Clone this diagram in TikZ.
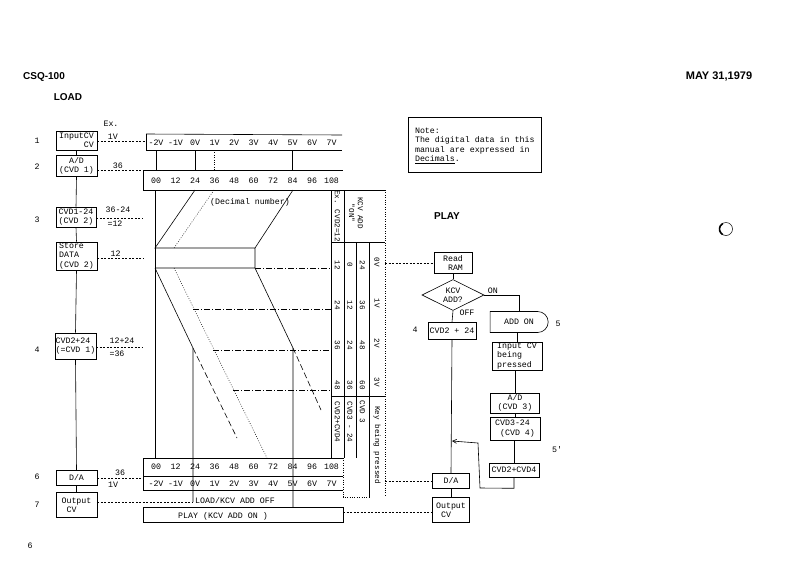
\documentclass[tikz,border=0pt]{standalone}
\usepackage{fontspec}
\setmainfont{Liberation Serif}
\newfontfamily\tw{Liberation Mono}
\newfontfamily\hd{Liberation Sans}
\usetikzlibrary{shapes.geometric,shapes.misc,arrows.meta}
\begin{document}
\begin{tikzpicture}[x=1pt,y=-1pt,
  tt/.style={font=\tw\fontsize{8.3}{9.4}\selectfont, inner sep=0pt},
  bx/.style={draw, line width=0.6pt, tt, inner sep=1pt, align=center},
  bxl/.style={bx, align=left},
  hdr/.style={font=\hd\bfseries\fontsize{10}{12}\selectfont, inner sep=0pt},
  ln/.style={line width=0.6pt},
  dsh/.style={line width=0.5pt, dash pattern=on 2pt off 1.5pt},
  dot/.style={line width=0.5pt, dash pattern=on 0.8pt off 1.6pt},
  dd/.style={line width=0.6pt, dash pattern=on 6pt off 2pt on 1pt off 2pt},
  ldsh/.style={line width=0.6pt, dash pattern=on 6pt off 3pt},
  rot/.style={font=\tw\fontsize{7.6}{8.6}\selectfont, inner sep=0pt, rotate=-90},
]
\useasboundingbox (0,0) rectangle (793,587);

% headers
\node[hdr] (csq) at (44,77) {CSQ-100};
\node[hdr] (load) at (68,97) {LOAD};
\node[hdr, font=\hd\bfseries\fontsize{11}{13}\selectfont] (may) at (719,77) {MAY 31,1979};
\node[hdr] (play) at (447,216) {PLAY};
\node[tt] (pg) at (30,546) {6};
\draw[line width=0.5pt] (726,229) circle[radius=6.5];
\draw[line width=1.6pt] (726,229) ++(120:6.5) arc[start angle=120, end angle=240, radius=6.5];

% left flow
\node[tt] (ex) at (111,124) {Ex.};
\node[bxl, minimum width=41, minimum height=15] (b1) at (76.5,141) {InputCV\\\phantom{Input}CV};
\node[bx, minimum width=41, minimum height=21] (b2) at (76.5,166) {A/D\\(CVD 1)};
\node[bxl, minimum width=40, minimum height=20] (b3) at (76,217) {CVD1-24\\(CVD 2)};
\node[bxl, minimum width=41, minimum height=28] (b4) at (76.5,256) {Store\\DATA\\(CVD 2)};
\node[bxl, minimum width=40, minimum height=26, inner sep=0.5pt] (b5) at (75.5,346) {CVD2+24\\(=CVD 1)};
\node[bx, minimum width=41, minimum height=15] (b6) at (76.5,478) {D/A};
\node[bxl, minimum width=41, minimum height=25] (b7) at (76.5,505) {Output\\\ CV};
\foreach \a/\b in {b1/b2,b2/b3,b3/b4,b4/b5,b5/b6,b6/b7} \draw[ln] (\a.south) -- (\b.north);

\node[tt] (n1) at (37,141) {1};
\node[tt] (n2) at (37,167) {2};
\node[tt] (n3) at (37,220) {3};
\node[tt] (n4) at (37,350) {4};
\node[tt] (n6) at (37,477) {6};
\node[tt] (n7) at (37,505) {7};

% top scales
\draw[ln] (146,134) -- (342,135);
\draw[ln] (146,150) -- (342,150);
\draw[ln] (146,134) -- (146,150);
\draw[ln] (143,170) -- (343,170);
\draw[ln] (143,170) -- (143,190) -- (385,190);
\foreach \v [count=\i from 0] in {-2V,-1V,0V,1V,2V,3V,4V,5V,6V,7V}
  \node[tt] (tv\i) at (156+19.5*\i,143) {\v};
\foreach \v [count=\i from 0] in {00,12,24,36,48,60,72,84,96,108}
  \node[tt] (tn\i) at (156+19.5*\i,181) {\v};

\coordinate (e1) at (146,141);
\coordinate (e2) at (143,170);
\coordinate (e3) at (143,218);
\coordinate (e4) at (143,258);
\coordinate (e5) at (143,347);
\coordinate (e6) at (143,478);
\draw[dsh] (b1.east) -- (e1) node[tt, pos=0.32, above=1pt] (l1) {1V};
\draw[dsh] (b2.east |- e2) -- (e2) node[tt, pos=0.45, above=1pt] (l2) {36};
\draw[dsh] (b3.east |- e3) -- (e3);
\node[tt] (l3a) at (118,210) {36-24};
\node[tt] (l3b) at (115,224) {=12};
\draw[dsh] (b4.east |- e4) -- (e4) node[tt, pos=0.4, above=1pt] (l4) {12};
\draw[dsh] (b5.east |- e5) -- (e5);
\node[tt] (l5a) at (122,341) {12+24};
\node[tt] (l5b) at (117,354) {=36};
\draw[dsh] (b6.east |- e6) -- (e6);
\node[tt] (l6a) at (120,473) {36};
\node[tt] (l6b) at (113,485) {1V};

% verticals between top scales
\draw[ln] (156,150) -- (156,170);
\draw[ln] (195,150) -- (195,170);
\draw[dot] (214.5,150) -- (214.5,170);
\draw[ln] (292.5,150) -- (292.5,170);

% diagonal region
\coordinate (p24) at (195,190);
\coordinate (p36) at (214,190);
\coordinate (p84) at (293,190);
\coordinate (r1) at (155,248);
\coordinate (r2) at (255,248);
\coordinate (r3) at (255,268);
\coordinate (r4) at (155,268);
\coordinate (d1) at (174,248);
\coordinate (d2) at (174,268);
\coordinate (s1) at (193,348);
\coordinate (s2) at (293,348);
\draw[ln] (155,190) -- (155,458);
\draw[ln] (p24) -- (r1) -- (r2) -- (r3) -- (r4);
\draw[ln] (p84) -- (r2);
\draw[dot] (p36) -- (d1);
\draw[dot] (d2) -- (267,458);
\node[tt] (dec) at (250,202) {(Decimal number)};
\draw[ln] (r4) -- (s1) -- (193,502);
\draw[ln] (r3) -- (s2) -- (293,507);
\draw[ldsh] (s1) -- (237,438);
\draw[ldsh] (s2) -- (321,410);
\draw[dd] (r3) -- (331,268);
\draw[dd] (193,309) -- (331,309);
\draw[dd] (213,350) -- (331,350);
\draw[dd] (233,390) -- (331,390);

% table
\draw[ln] (331,190) -- (331,458);
\draw[ln] (344,190) -- (344,458);
\draw[ln] (356,242) -- (356,458);
\draw[ln] (369,242) -- (369,497);
\draw[dot] (385,190) -- (385,497);
\draw[ln] (331,242) -- (385,242);
\draw[ln] (331,396) -- (385,396);
\node[rot] (th1) at (337.5,216) {Ex. CVD2=12};
\node[rot, align=center] (th2) at (356,213) {KCV ADD\\"ON"};
\foreach \v/\y in {12/265,24/305,36/345,48/385} \node[rot] at (337.5,\y) {\v};
\foreach \v/\y in {0/265,12/305,24/345,36/385} \node[rot] at (350,\y) {\v};
\foreach \v/\y in {24/265,36/305,48/345,60/385} \node[rot] at (362.5,\y) {\v};
\foreach \v/\y in {0V/262,1V/303,2V/343,3V/382} \node[rot] at (377,\y) {\v};
\node[rot] (tf1) at (337.5,422) {CVD2+CVD4};
\node[rot] (tf2) at (350,422) {CVD3 - 24};
\node[rot] (tf3) at (362.5,412) {CVD 3};
\node[rot] (tf4) at (377,445) {Key being pressed};

% bottom scale
\draw[ln] (143,458) -- (343,458);
\draw[ln] (143,476) -- (343,476);
\draw[ln] (143,490) -- (343,490);
\draw[ln] (143,458) -- (143,490);
\draw[dot] (343,458) -- (343,497) -- (369,497);
\foreach \v [count=\i from 0] in {00,12,24,36,48,60,72,84,96,108}
  \node[tt] (bn\i) at (156+19.5*\i,467) {\v};
\foreach \v [count=\i from 0] in {-2V,-1V,0V,1V,2V,3V,4V,5V,6V,7V}
  \node[tt] (bv\i) at (156+19.5*\i,484) {\v};

\coordinate (lo) at (193,502);
\draw[dsh] (b7.east |- lo) -- (lo);
\node[tt, anchor=west] (lkcv) at (195,501) {LOAD/KCV ADD OFF};
\draw[ln] (143,507) rectangle (343,522);
\node[tt] (pkcv) at (223,516) {PLAY (KCV ADD ON )};

% note
\node[draw, ln, tt, align=left, anchor=north west, minimum width=133, minimum height=55, inner sep=3pt, text depth=0pt] (note) at (408,117)
  {Note:\\The digital data in this\\manual are expressed in\\\underline{Decimals}.};

% play flow
\node[bxl, minimum width=38, minimum height=21] (rr) at (453,263) {Read\\\ RAM};
\node[draw, ln, diamond, aspect=2, minimum width=62, minimum height=31, inner sep=0pt, tt, align=center] (kcv) at (453,295) {KCV\\ADD?};
\node[bx, minimum width=48, minimum height=17] (c24) at (452,331) {CVD2 + 24};
\node[draw, ln, rounded rectangle, rounded rectangle west arc=none, minimum width=58, minimum height=21, tt] (adon) at (519,322) {ADD ON};
\node[bxl, minimum width=50, minimum height=28] (icv) at (517,356) {Input CV\\being\\pressed};
\node[bx, minimum width=49, minimum height=20] (ad3) at (515,403) {A/D\\(CVD 3)};
\node[bxl, minimum width=50, minimum height=23] (c3) at (515,428.5) {CVD3-24\\\ (CVD 4)};
\node[bx, minimum width=50, minimum height=14] (c4) at (514,470) {CVD2+CVD4};
\node[bx, minimum width=37, minimum height=15] (da2) at (451,481) {D/A};
\node[bxl, minimum width=37, minimum height=25] (oc2) at (451,510) {Output\\\ CV};
\node[tt] (f4) at (415,330) {4};
\node[tt] (f5) at (558,324) {5};
\node[tt] (f5p) at (557,450) {5'};

\draw[ln] (rr.south) -- (kcv.north);
\draw[ln] (kcv.east) -- (adon.north |- kcv.east) node[tt, pos=0.25, above=1pt] (on) {ON} -- (adon.north);
\draw[ln] (kcv.south) -- (c24.north);
\node[tt] (off) at (467,313) {OFF};
\draw[ln] (adon.south -| icv.north) -- (icv.north);
\draw[ln] (icv.south -| ad3.north) -- (ad3.north);
\draw[ln] (ad3.south) -- (c3.north);
\draw[ln] (c3.south -| c4.north) -- (c4.north);
\draw[ln] (c24.south) -- (da2.north);
\draw[ln] (da2.south) -- (oc2.north);
\coordinate (jn) at (452,441);
\draw[ln, -{Straight Barb[length=4pt,width=4pt]}] (c4.south) -- ++(0,11) -- (480,488) -- (478,443) -- (jn);

\coordinate (t1) at (385,263);
\coordinate (t2) at (385,481);
\coordinate (t3) at (343,512);
\draw[dsh] (t1) -- (rr.west);
\draw[dsh] (t2) -- (da2.west);
\draw[dsh] (t3) -- (oc2.west |- t3);
\end{tikzpicture}
\end{document}
